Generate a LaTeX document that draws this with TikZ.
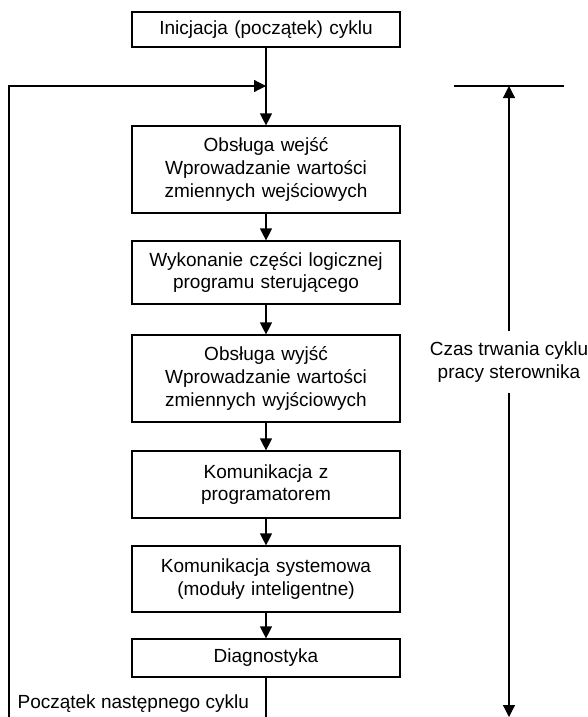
\documentclass[tikz,border=0pt]{standalone}
\usepackage{fontspec}
\setmainfont{Liberation Sans}
\usetikzlibrary{arrows.meta}
\begin{document}
\begin{tikzpicture}[x=1pt,y=-1pt,
  font=\fontsize{19}{22.7}\selectfont,
  line width=1.2pt,
  box/.style={draw, line width=1.2pt, minimum width=268pt, text width=260pt, align=center, inner sep=0pt},
  arr/.style={-{Triangle[width=12pt,length=12pt]}},
  darr/.style={{Triangle[width=12pt,length=12pt]}-{Triangle[width=12pt,length=12pt]}}]
\useasboundingbox (0,0) rectangle (587,717);
\node[box, minimum height=35pt] (b1) at (266,29.5) {Inicjacja (początek) cyklu};
\node[box, minimum height=87pt] (b2) at (266,169.5) {Obsługa wejść\\Wprowadzanie wartości\\zmiennych wejściowych};
\node[box, minimum height=63pt] (b3) at (266,272.5) {Wykonanie części logicznej\\programu sterującego};
\node[box, minimum height=87pt] (b4) at (266,378.5) {Obsługa wyjść\\Wprowadzanie wartości\\zmiennych wyjściowych};
\node[box, minimum height=67pt] (b5) at (266,484.5) {Komunikacja z\\programatorem};
\node[box, minimum height=66pt] (b6) at (266,579) {Komunikacja systemowa\\(moduły inteligentne)};
\node[box, minimum height=38pt] (b7) at (266,658) {Diagnostyka};
\coordinate (j) at (266,86);
\coordinate (lt) at (9,86);
\coordinate (lb) at (9,717);
\coordinate (bot) at (266,717);
\draw[arr] (b1) -- (b2);
\draw[arr] (b2) -- (b3);
\draw[arr] (b3) -- (b4);
\draw[arr] (b4) -- (b5);
\draw[arr] (b5) -- (b6);
\draw[arr] (b6) -- (b7);
\draw (b7) -- (bot);
\draw[arr] (lb) -- (lt) -- (j);
\node[anchor=base west, inner sep=0pt] (next) at (17,708) {Początek następnego cyklu};
% right dimension
\coordinate (tl) at (454,86);
\coordinate (tr) at (564,86);
\coordinate (dt) at (509,86);
\coordinate (db) at (509,717);
\draw (tl) -- (tr);
\node[align=center, inner sep=0pt, minimum height=60pt] (czas) at (509,362) {Czas trwania cyklu\\pracy sterownika};
\draw[arr] (czas.north) -- (dt);
\draw[arr] (czas.south) -- (db);
\end{tikzpicture}
\end{document}
